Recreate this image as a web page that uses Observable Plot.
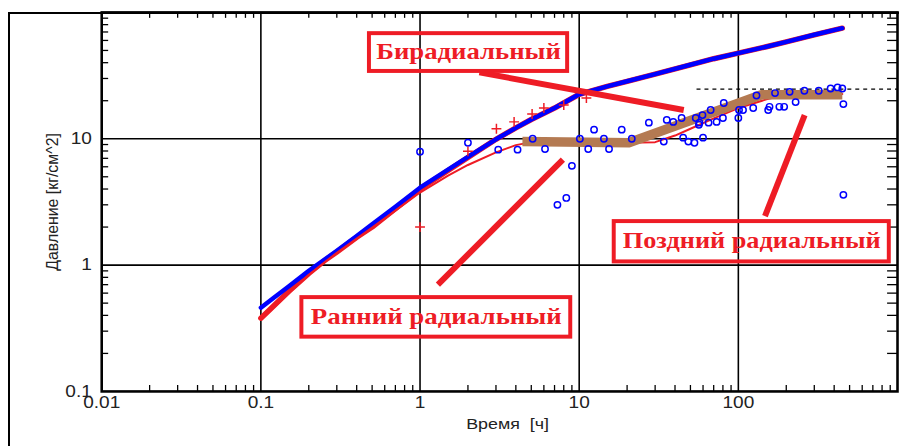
<!DOCTYPE html>
<html><head><meta charset="utf-8">
<script src="https://cdn.jsdelivr.net/npm/d3@7"></script>
<script src="https://cdn.jsdelivr.net/npm/@observablehq/plot@0.6"></script>
<style>
body{margin:0;background:#fff;}
#wrap{position:relative;width:899px;height:446px;overflow:hidden;background:#fff;}
#border{position:absolute;left:8px;top:12px;width:2000px;height:2000px;border-left:2px solid #000;border-top:2px solid #000;box-sizing:border-box;}
#chart{position:absolute;left:0;top:0;}
</style></head>
<body><div id="wrap"><div id="border"></div><div id="chart"></div></div>
<script>
// ---- axis ticks ----
const xTickValues = [0.01, 0.1, 1, 10, 100];
const xTickLabels = ["0.01", "0.1", "1", "10", "100"];
const yTickValues = [0.1, 1, 10];
const yTickLabels = ["0.1", "1", "10"];
const xGridValues = [0.1, 1, 10, 100];
const yGridValues = [1, 10];
const xDecades = [0.01, 0.1, 1, 10, 100];
const yDecades = [0.1, 1, 10];
const minorMult = [2, 3, 4, 5, 6, 7, 8, 9];

// ---- pressure data (blue) ----
const pressT = [0.1, 0.12, 0.15, 0.2, 0.25, 0.3, 0.4, 0.5, 0.7, 1, 1.5, 2, 3, 4, 5, 7, 10, 15, 20, 30, 50, 70, 100, 150, 200, 300, 450];
const pressP = [0.46, 0.55, 0.68, 0.9, 1.1, 1.3, 1.7, 2.1, 2.9, 4.1, 5.7, 7.2, 9.9, 12.2, 14.2, 17.5, 22.5, 26, 28.5, 32.5, 38.5, 43, 47.6, 53.5, 58.5, 66.5, 75];

// ---- pressure model (red) ----
const pModelT = [0.1, 0.15, 0.2, 0.25, 0.3, 0.4, 0.5, 0.7, 1, 1.5, 2, 3, 4, 5, 7, 10, 15, 20, 30, 50, 70, 100, 150, 200, 300, 450];
const pModelP = [0.38, 0.62, 0.86, 1.08, 1.27, 1.66, 2.0, 2.8, 4.0, 5.6, 7.1, 9.9, 12.2, 14.2, 17.5, 22.5, 26, 28.5, 32.5, 38.5, 43, 47.6, 53.5, 58.5, 66.5, 75];

// ---- derivative model (red) ----
const dModelT = [0.1, 0.15, 0.2, 0.25, 0.3, 0.4, 0.5, 0.7, 1, 1.5, 2, 3, 4, 5, 7, 10, 15, 20, 30, 40, 50, 70, 100, 150, 200, 250, 300, 450];
const dModelP = [0.37, 0.6, 0.84, 1.05, 1.25, 1.62, 1.98, 2.7, 3.75, 5.1, 6.2, 7.8, 8.9, 9.4, 9.6, 9.5, 9.3, 9.3, 9.4, 10.6, 12, 14.5, 17.5, 20.5, 22.3, 22.6, 22.6, 22.6];

// ---- derivative data (blue circles) ----
const derivT = [1, 2, 3.1, 4.1, 5.1, 6.1, 7.3, 8.3, 9, 10.1, 11.4, 12.4, 14.3, 15.4, 18.5, 21.4, 27.4, 34, 35.5, 39, 44, 45, 48.5, 53, 54, 56.5, 57, 59.5, 60, 65, 67, 73, 80, 81, 100, 101, 107, 124, 130, 154, 157, 170, 181, 194, 210, 229, 260, 320, 380, 420, 450, 457, 457];
const derivP = [7.9, 9.3, 8.2, 8.2, 10, 8.3, 3.0, 3.4, 6.1, 10, 8.3, 11.8, 10, 8.3, 11.8, 10, 13.4, 9.5, 14.1, 13.6, 14.6, 10.2, 9.5, 9.3, 14.6, 12.9, 13.4, 15.4, 10.2, 13.4, 16.9, 13.6, 14.6, 19.2, 14.6, 16.9, 16.9, 17.5, 22, 16.9, 17.9, 23, 17.9, 17.9, 23.5, 19.5, 24, 24, 25, 25.5, 25, 18.8, 3.6];

// ---- pressure data 2 (red plus) ----
const plusT = [1, 2, 3.02, 3.9, 5.06, 6, 8, 11.1];
const plusP = [2.0, 7.95, 12, 13.6, 15.7, 17.5, 18.5, 21];

// ---- brown regime line ----
const brownT = [4.4, 20.5, 140, 450];
const brownP = [9.5, 9.3, 22.3, 22.3];

// ---- dotted level ----
const levelP = [24.7];
const levelT1 = [55];
const levelT2 = [1000];

// ---- annotations ----
const noteLabels = ["Бирадиальный", "Ранний радиальный", "Поздний радиальный"];
const noteT1 = [0.481, 0.181, 16.6];
const noteT2 = [8.46, 8.85, 888];
const noteP1 = [67.9, 0.553, 2.21];
const noteP2 = [34.1, 0.269, 1.06];
const pointerT1 = [2.36, 1.295, 147];
const pointerP1 = [33.5, 0.70, 2.44];
const pointerT2 = [45.4, 7.9, 261];
const pointerP2 = [16.9, 6.84, 15.4];

// ---- build tables ----
const zip = (a, b) => a.map((t, i) => ({t, p: b[i]}));
const press = zip(pressT, pressP);
const pModel = zip(pModelT, pModelP);
const dModel = zip(dModelT, dModelP);
const deriv = zip(derivT, derivP);
const plus = zip(plusT, plusP);
const brown = zip(brownT, brownP);
const level = levelP.map((p, i) => ({p, t1: levelT1[i], t2: levelT2[i]}));
const notes = noteLabels.map((label, i) => ({label, t1: noteT1[i], t2: noteT2[i], p1: noteP1[i], p2: noteP2[i]}));
const pointers = pointerT1.map((t1, i) => ({t1, p1: pointerP1[i], t2: pointerT2[i], p2: pointerP2[i]}));
const minorX = xDecades.flatMap(d => minorMult.map(m => d * m));
const minorY = yDecades.flatMap(d => minorMult.map(m => d * m));

const RED = "#ee1c25";
const W = 906, H = 446, ML = 102, MR = 2, MT = 12, MB = 52;
const PW = W - ML - MR, PH = H - MT - MB;

const chart = Plot.plot({
  width: W, height: H,
  marginLeft: ML, marginRight: MR, marginTop: MT, marginBottom: MB,
  x: {type: "log", domain: [0.01, 1000], axis: null},
  y: {type: "log", domain: [0.1, 100], axis: null},
  style: {fontFamily: "'Liberation Sans', Arial, sans-serif", fontSize: "16px", color: "#222", background: "transparent", overflow: "visible"},
  marks: [
    Plot.gridX(xGridValues, {stroke: "#000", strokeOpacity: 1, strokeWidth: 1.6}),
    Plot.gridY(yGridValues, {stroke: "#000", strokeOpacity: 1, strokeWidth: 1.6}),
    Plot.tickX(minorX, {x: d => d, insetTop: PH - 6, stroke: "#000", strokeWidth: 1.3}),
    Plot.tickX(minorX, {x: d => d, insetBottom: PH - 6, stroke: "#000", strokeWidth: 1.3}),
    Plot.tickY(minorY, {y: d => d, insetRight: PW - 7, stroke: "#000", strokeWidth: 1.3}),
    Plot.tickY(minorY, {y: d => d, insetLeft: PW - 10, stroke: "#000", strokeWidth: 1.3}),
    Plot.ruleY(level, {y: "p", x1: "t1", x2: "t2", stroke: "#000", strokeWidth: 1.3, strokeDasharray: "4,4"}),
    Plot.line(pModel, {x: "t", y: "p", stroke: RED, strokeWidth: 5.5}),
    Plot.line(press, {x: "t", y: "p", stroke: "#0000ff", strokeWidth: 4.5}),
    Plot.line(dModel, {x: "t", y: "p", stroke: RED, strokeWidth: 2}),
    Plot.line(brown, {x: "t", y: "p", stroke: "#b47a52", strokeWidth: 9.5, strokeLinecap: "butt", strokeLinejoin: "round"}),
    Plot.dot(deriv, {x: "t", y: "p", r: 3.2, stroke: "#0000ff", strokeWidth: 1.5, fill: "none"}),
    Plot.dot(plus, {x: "t", y: "p", symbol: "plus", r: 3.3, stroke: RED, strokeWidth: 1.5}),
    Plot.link(pointers, {x1: "t1", y1: "p1", x2: "t2", y2: "p2", stroke: RED, strokeWidth: 6}),
    Plot.rect(notes, {x1: "t1", x2: "t2", y1: "p1", y2: "p2", fill: "none", stroke: RED, strokeWidth: 4}),
    Plot.text(notes, {x: d => Math.sqrt(d.t1 * d.t2), y: d => Math.sqrt(d.p1 * d.p2), text: "label", fill: RED, fontFamily: "'Liberation Serif', 'Times New Roman', serif", fontWeight: "bold", fontSize: 23, dy: -1}),
    Plot.frame({stroke: "#000", strokeWidth: 2.6}),
    Plot.text(xTickValues, {x: d => d, frameAnchor: "bottom", dy: 17, text: (d, i) => xTickLabels[i], fill: "#222"}),
    Plot.text(yTickValues, {y: d => d, frameAnchor: "left", dx: -10, dy: 0, textAnchor: "end", text: (d, i) => yTickLabels[i], fill: "#222"}),
    Plot.text(["Время\u00a0\u00a0[ч]"], {frameAnchor: "bottom", dy: 38, dx: 8, fontSize: 15, fill: "#222"}),
    Plot.text(["Давление [кг/см^2]"], {frameAnchor: "left", textAnchor: "middle", dx: -49, rotate: -90, fontSize: 16, fill: "#222"})
  ]
});
document.getElementById("chart").appendChild(chart);

// horizontal stretch of text as in the reference picture (not the rotated title)
const noteWidths = [186, 253, 260];
chart.querySelectorAll("text").forEach(t => {
  if ((t.getAttribute("transform") || "").includes("rotate")) return;
  const i = noteLabels.indexOf(t.textContent);
  const w = t.getComputedTextLength();
  t.setAttribute("lengthAdjust", "spacingAndGlyphs");
  t.setAttribute("textLength", i >= 0 ? noteWidths[i] : w * 1.2);
});
</script>
</body></html>
